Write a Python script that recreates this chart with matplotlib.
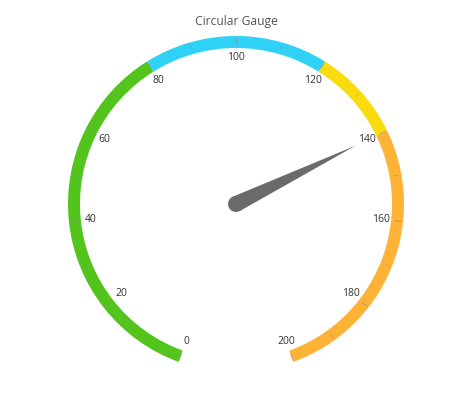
import numpy as np
import matplotlib
matplotlib.use('Agg')
import matplotlib.pyplot as plt
from matplotlib.patches import Wedge, Circle, Polygon

# gauge data
range_starts = [0, 80, 120, 140]
range_ends = [80, 120, 140, 200]
range_colors = ['#52c41c', '#2fd2f6', '#fadb0e', '#feb236']
tick_labels = [0, 20, 40, 60, 80, 100, 120, 140, 160, 180, 200]
minor_ticks = [10, 30, 50, 70, 90, 110, 130, 150, 170, 190]
needle_value = 140

V_MIN, V_MAX = 0, 200
START_ANGLE, END_ANGLE = 250, -70


def val_to_angle(v):
    return START_ANGLE + (END_ANGLE - START_ANGLE) * (v - V_MIN) / (V_MAX - V_MIN)


W, H = 474, 408
fig = plt.figure(figsize=(W / 100, H / 100), dpi=100)
ax = fig.add_axes([0, 0, 1, 1])
ax.set_xlim(0, W)
ax.set_ylim(0, H)
ax.axis('off')

cx, cy = 236, H - 204
r_out, width = 168, 12

for s, e, c in zip(range_starts, range_ends, range_colors):
    ax.add_patch(Wedge((cx, cy), r_out, val_to_angle(e), val_to_angle(s),
                       width=width, facecolor=c, edgecolor='none', zorder=1))

for v in tick_labels:
    a = np.radians(val_to_angle(v))
    ax.plot([cx + 160 * np.cos(a), cx + 166 * np.cos(a)],
            [cy + 160 * np.sin(a), cy + 166 * np.sin(a)],
            color='#888888', lw=0.8, alpha=0.55, zorder=2)
    ax.text(cx + 146 * np.cos(a), cy + 146 * np.sin(a), str(v),
            ha='center', va='center', fontsize=7.5, color='#333333',
            family='Open Sans', zorder=3)
for v in minor_ticks:
    a = np.radians(val_to_angle(v))
    ax.plot([cx + 161 * np.cos(a), cx + 165 * np.cos(a)],
            [cy + 161 * np.sin(a), cy + 165 * np.sin(a)],
            color='#888888', lw=0.7, alpha=0.4, zorder=2)

# needle
a = np.radians(val_to_angle(needle_value))
n_len, n_base = 133, 8
tip = (cx + n_len * np.cos(a), cy + n_len * np.sin(a))
perp = a + np.pi / 2
p1 = (cx + n_base * np.cos(perp), cy + n_base * np.sin(perp))
p2 = (cx - n_base * np.cos(perp), cy - n_base * np.sin(perp))
ax.add_patch(Polygon([p1, tip, p2], closed=True, facecolor='#6b6b6b',
                     edgecolor='none', zorder=4))
ax.add_patch(Circle((cx, cy), n_base, facecolor='#6b6b6b', edgecolor='none', zorder=4))

ax.text(236, H - 21, 'Circular Gauge', ha='center', va='center',
        fontsize=8.7, color='#555555', family='Open Sans')

fig.savefig('out.png', dpi=100)
plt.close(fig)
